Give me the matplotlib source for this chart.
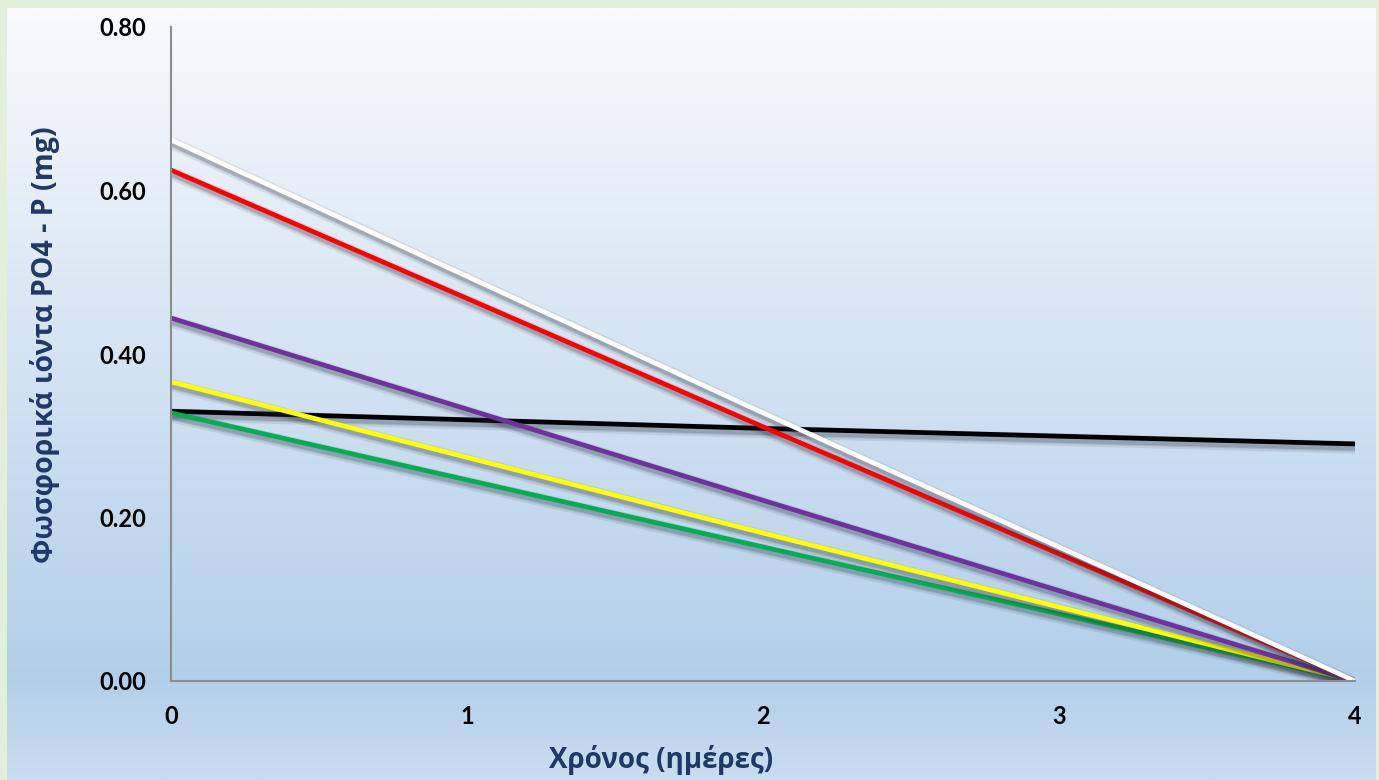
import numpy as np
import matplotlib
matplotlib.use('Agg')
import matplotlib.pyplot as plt
import matplotlib.patheffects as pe
from matplotlib.colors import LinearSegmentedColormap

# days of measurement
days = [0, 2, 4]

# PO4-P (mg) per series
black_vals = [0.330, 0.309, 0.290]
green_vals = [0.328, 0.164, 0.0]
yellow_vals = [0.366, 0.181, 0.0]
purple_vals = [0.444, 0.221, 0.0]
red_vals = [0.625, 0.311, 0.0]
white_vals = [0.662, 0.328, 0.0]

y_ticks = [0.0, 0.2, 0.4, 0.6, 0.8]
x_ticks = [0, 1, 2, 3, 4]

series = [
    (black_vals, '#000000'),
    (green_vals, '#00b050'),
    (yellow_vals, '#ffff00'),
    (purple_vals, '#7030a0'),
    (red_vals, '#ff0000'),
    (white_vals, '#ffffff'),
]

W, H = 1379, 780
fig = plt.figure(figsize=(W / 100, H / 100), dpi=100)
fig.patch.set_facecolor('#e2efd9')

# gradient panel behind the chart
bg = fig.add_axes([7 / W, 0, (1376 - 7) / W, (H - 8) / H])
bg.set_axis_off()
grad_cmap = LinearSegmentedColormap.from_list(
    'panel', [(0.0, '#f8fafd'), (0.87, '#b2cfe9'), (1.0, '#c9ddf0')])
grad = np.linspace(0, 1, 400).reshape(-1, 1)
bg.imshow(grad, aspect='auto', cmap=grad_cmap, extent=[0, 1, 0, 1], origin='upper')
bg.set_xlim(0, 1)
bg.set_ylim(0, 1)

ax = fig.add_axes([171 / W, 1 - 681 / H, (1355 - 171) / W, (681 - 27) / H])
ax.patch.set_alpha(0)

# soft drop shadow: a few faint layers stacked
shadow = [pe.SimpleLineShadow(offset=(1, -2.5), shadow_color='#2a3240', alpha=0.10, linewidth=9),
          pe.SimpleLineShadow(offset=(1, -2.5), shadow_color='#2a3240', alpha=0.15, linewidth=6),
          pe.SimpleLineShadow(offset=(1, -3), shadow_color='#2a3240', alpha=0.15, linewidth=3.5),
          pe.Normal()]
for vals, col in series:
    ax.plot(days, vals, color=col, lw=3.4, solid_capstyle='butt', path_effects=shadow)

ax.set_xlim(0, 4)
ax.set_ylim(0, 0.8)
ax.set_xticks(x_ticks)
ax.set_yticks(y_ticks)
ax.set_yticklabels([f'{v:.2f}' for v in y_ticks])
ax.tick_params(length=0, labelsize=17)
ax.tick_params(axis='y', pad=18)
ax.tick_params(axis='x', pad=17)
for lab in ax.get_xticklabels() + ax.get_yticklabels():
    lab.set_fontfamily('Lato')
    lab.set_fontweight('bold')

for s in ['top', 'right']:
    ax.spines[s].set_visible(False)
for s in ['left', 'bottom']:
    ax.spines[s].set_color('#8c8c8c')
    ax.spines[s].set_linewidth(1.5)

navy = '#1f3864'
fig.text(661 / W, 1 - 760 / H, 'Χρόνος (ημέρες)', ha='center', va='center',
         fontsize=20, fontweight='bold', color=navy, fontfamily='Open Sans')
fig.text(45 / W, 1 - 345 / H, 'Φωσφορικά ιόντα PO4 - P (mg)', rotation=90,
         ha='center', va='center', fontsize=20.5, fontweight='bold', color=navy,
         fontfamily='Open Sans')

fig.savefig('out.png', dpi=100, facecolor=fig.get_facecolor())
